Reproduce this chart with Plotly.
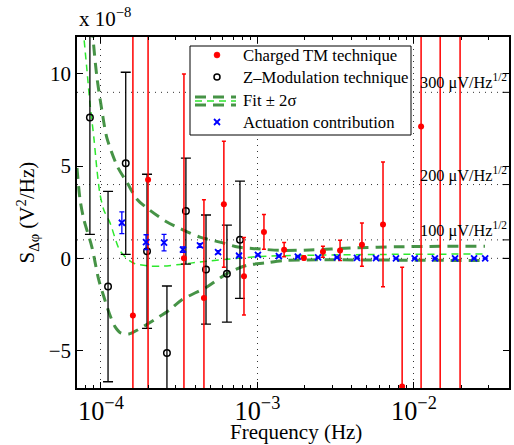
import plotly.graph_objects as go

# ---------------- data (PSD values in units of 1e-8 V^2/Hz) ----------------
# Charged TM technique
f_charged = [1.60e-4, 2.00e-4, 3.39e-4, 4.55e-4, 6.10e-4, 8.20e-4, 1.10e-3, 1.48e-3,
             1.98e-3, 2.62e-3, 3.37e-3, 4.65e-3, 6.34e-3, 8.40e-3, 1.11e-2, 1.47e-2, 1.97e-2]
S_charged = [-3.1, 4.26, 0.0, -2.15, 2.93, -0.97, 1.43, 0.47,
             0.02, 0.36, 0.43, 0.74, 1.84, -6.95, 7.15, 14.0, -10.0]
err_charged = [16.0, 12.0, 10.0, 5.33, 3.42, 2.1, 0.94, 0.39,
               0.10, 0.30, 0.55, 1.17, 3.38, 6.46, 16.0, 22.0, 25.0]

# Z-Modulation technique
f_zmod = [8.5e-5, 1.11e-4, 1.44e-4, 1.97e-4, 2.64e-4, 3.49e-4, 4.69e-4, 6.38e-4, 7.73e-4]
S_zmod = [7.64, -1.53, 5.15, 0.38, -5.13, 2.56, -0.61, -0.83, 1.01]
err_zmod = [6.34, 5.16, 4.94, 4.18, 3.63, 2.87, 2.96, 2.63, 3.18]

# Actuation contribution
f_act = [1.36e-4, 1.94e-4, 2.53e-4, 3.34e-4, 4.29e-4, 5.60e-4, 7.62e-4, 1.007e-3, 1.37e-3, 1.81e-3,
         2.44e-3, 3.22e-3, 4.32e-3, 5.72e-3, 7.67e-3, 1.01e-2, 1.36e-2, 1.83e-2, 2.42e-2, 2.85e-2]
S_act = [1.93, 0.88, 0.85, 0.47, 0.70, 0.34, 0.15, 0.19, 0.12, 0.09,
         0.05, 0.05, 0.02, 0.01, 0.0, 0.0, 0.0, 0.0, 0.0, 0.0]
err_act = [0.59, 0.40, 0.45, 0.15, 0.10, 0.08, 0.05, 0.05, 0.04, 0.03,
           0.02, 0.02, 0.02, 0.02, 0.01, 0.01, 0.01, 0.01, 0.01, 0.01]

# Fit
f_fit = [7.35e-5, 7.78e-5, 8.14e-5, 8.51e-5, 9.02e-5, 9.43e-5, 9.85e-5, 1.045e-4, 1.14e-4, 1.32e-4,
         1.51e-4, 1.65e-4, 2.06e-4, 2.53e-4, 3.20e-4, 4.29e-4, 6.38e-4, 1.04e-3, 1.87e-3, 8.12e-3, 2.84e-2]
S_fit = [14.4, 12.0, 10.2, 8.4, 6.5, 4.8, 3.5, 2.6, 1.95, 0.43,
         -0.1, -0.29, -0.42, -0.42, -0.33, -0.2, -0.05, 0.1, 0.16, 0.22, 0.23]

# Fit + 2 sigma
f_up = [8.51e-5, 8.89e-5, 9.43e-5, 1.015e-4, 1.09e-4, 1.27e-4, 1.47e-4, 1.70e-4, 2.06e-4, 2.64e-4,
        3.39e-4, 4.29e-4, 5.75e-4, 7.50e-4, 9.93e-4, 1.39e-3, 2.16e-3, 3.90e-3, 8.12e-3, 2.84e-2]
S_up = [14.5, 12.0, 9.8, 8.0, 6.55, 5.0, 4.1, 3.2, 2.6, 1.97,
        1.52, 1.15, 0.88, 0.61, 0.52, 0.43, 0.45, 0.56, 0.63, 0.66]

# Fit - 2 sigma
f_lo = [7.03e-5, 7.35e-5, 7.78e-5, 8.76e-5, 9.64e-5, 1.045e-4, 1.133e-4, 1.229e-4, 1.342e-4, 1.51e-4,
        1.70e-4, 2.18e-4, 2.74e-4, 3.29e-4, 4.75e-4, 6.38e-4, 8.57e-4, 1.12e-3, 1.46e-3, 2.51e-3,
        8.12e-3, 2.84e-2]
S_lo = [4.9, 3.2, 2.1, 0.6, -1.1, -2.1, -3.0, -3.7, -4.05, -4.1,
        -3.9, -3.35, -2.8, -2.25, -1.55, -0.83, -0.38, -0.25, -0.12, -0.08,
        -0.1, -0.12]

# Amplitude reference levels (uV/Hz^1/2)
uV_levels = [100, 200, 300]
UNIT = 1e-8  # y-axis multiplier

y_ticks = [-5, 0, 5, 10]
legend_labels = ["Charged TM technique", "Z–Modulation technique", "Fit ± 2σ", "Actuation contribution"]

FONT = "Liberation Serif"
DARK_GREEN = "rgba(50,135,50,0.9)"
LIME = "#2ee82e"

# plot-area geometry in pixels (for the hand-drawn legend)
W, H = 514, 445
ML, MR, MT, MB = 77, 5, 37, 57
PW, PH = W - ML - MR, H - MT - MB


def px(xp):
    return (xp - ML) / PW


def py(yp):
    return (H - MB - yp) / PH


fig = go.Figure()

# fits
fit_dash = "11px,7px"
fig.add_trace(go.Scatter(x=f_up, y=S_up, mode="lines", showlegend=False,
                         line=dict(color=DARK_GREEN, width=3, dash=fit_dash, shape="spline", smoothing=0.8)))
fig.add_trace(go.Scatter(x=f_lo, y=S_lo, mode="lines", showlegend=False,
                         line=dict(color=DARK_GREEN, width=3, dash=fit_dash, shape="spline", smoothing=0.8)))
fig.add_trace(go.Scatter(x=f_fit, y=S_fit, mode="lines", showlegend=False,
                         line=dict(color=LIME, width=1.5, dash="7px,5px", shape="spline", smoothing=0.8)))

# Z-modulation
fig.add_trace(go.Scatter(x=f_zmod, y=S_zmod, mode="markers", showlegend=False,
                         marker=dict(symbol="circle-open", size=6.5, color="black", line=dict(width=1.5)),
                         error_y=dict(type="data", array=err_zmod, color="black", thickness=1.3, width=5)))
# Charged TM
fig.add_trace(go.Scatter(x=f_charged, y=S_charged, mode="markers", showlegend=False,
                         marker=dict(symbol="circle", size=6, color="red"),
                         error_y=dict(type="data", array=err_charged, color="red", thickness=1.5, width=2)))
# Actuation
fig.add_trace(go.Scatter(x=f_act, y=S_act, mode="markers", showlegend=False,
                         marker=dict(symbol="x-thin", size=6, color="blue", line=dict(width=1.8, color="blue")),
                         error_y=dict(type="data", array=err_act, color="blue", thickness=1.3, width=2.5)))

# horizontal dotted guide lines (0 and amplitude levels)
levels = [0] + [(u * 1e-6) ** 2 / UNIT for u in uV_levels]
shapes = []
for lv in levels:
    shapes.append(dict(type="line", xref="paper", x0=0, x1=1, yref="y", y0=lv, y1=lv,
                       line=dict(color="#333", width=1, dash="1px,5px"), layer="below"))
    shapes.append(dict(type="line", xref="paper", x0=0.985, x1=1, yref="y", y0=lv, y1=lv,
                       line=dict(color="black", width=1)))

# ---- hand-drawn legend (box, symbols) ----
shapes.append(dict(type="rect", xref="paper", yref="paper", x0=px(190), x1=px(411), y0=py(135), y1=py(46),
                   fillcolor="white", line=dict(color="black", width=1), layer="above"))
row_y = [55, 77, 100, 122]
sym_x = 217
# red dot
shapes.append(dict(type="circle", xref="paper", yref="paper", xsizemode="pixel", ysizemode="pixel",
                   xanchor=px(sym_x), yanchor=py(row_y[0]), x0=-3, x1=3, y0=-3, y1=3,
                   fillcolor="red", line=dict(color="red", width=0.5), layer="above"))
# black open circle
shapes.append(dict(type="circle", xref="paper", yref="paper", xsizemode="pixel", ysizemode="pixel",
                   xanchor=px(sym_x), yanchor=py(row_y[1]), x0=-3, x1=3, y0=-3, y1=3,
                   fillcolor="white", line=dict(color="black", width=1.5), layer="above"))
# fit lines
for dy, col, wd, ds in [(-4, DARK_GREEN, 3, fit_dash), (4, DARK_GREEN, 3, fit_dash), (0, LIME, 1.5, "7px,5px")]:
    shapes.append(dict(type="line", xref="paper", yref="paper", x0=px(195), x1=px(236),
                       y0=py(row_y[2] + 1 + dy), y1=py(row_y[2] + 1 + dy),
                       line=dict(color=col, width=wd, dash=ds), layer="above"))
# blue x
for s in (1, -1):
    shapes.append(dict(type="line", xref="paper", yref="paper", xsizemode="pixel", ysizemode="pixel",
                       xanchor=px(sym_x), yanchor=py(row_y[3]), x0=-3, x1=3, y0=-3 * s, y1=3 * s,
                       line=dict(color="blue", width=1.8), layer="above"))

annotations = []
for lab, ry in zip(legend_labels, row_y):
    annotations.append(dict(xref="paper", x=px(241), yref="paper", y=py(ry), xanchor="left", yanchor="middle",
                            text=lab, showarrow=False, font=dict(family=FONT, size=16.7, color="black")))

for u, lv in zip(uV_levels, levels[1:]):
    annotations.append(dict(xref="paper", x=px(418), yref="y", y=lv, xanchor="left", yanchor="bottom",
                            text=f"{u} μV/Hz<sup>1/2</sup>", showarrow=False,
                            font=dict(family=FONT, size=16.3, color="black"), yshift=-2))
annotations.append(dict(xref="paper", x=0.0, yref="paper", y=1.011, xanchor="left", yanchor="bottom",
                        text="x 10<sup>−8</sup>", showarrow=False, font=dict(family=FONT, size=21, color="black")))
annotations.append(dict(xref="paper", x=px(27), yref="paper", y=0.5, xanchor="center", yanchor="middle",
                        text="S<sub>Δφ</sub> (V<sup>2</sup>/Hz)", textangle=-90, showarrow=False,
                        font=dict(family=FONT, size=21, color="black")))
annotations.append(dict(xref="paper", x=px(296), yref="paper", y=py(432), xanchor="center", yanchor="middle",
                        text="Frequency (Hz)", showarrow=False, font=dict(family=FONT, size=21, color="black")))

fig.update_layout(
    width=W, height=H,
    margin=dict(l=ML, r=MR, t=MT, b=MB),
    paper_bgcolor="white", plot_bgcolor="white",
    font=dict(family=FONT, color="black"),
    shapes=shapes, annotations=annotations,
    showlegend=False,
    xaxis=dict(type="log", range=[-4.153, -1.393], dtick=1, exponentformat="power", automargin=False,
               showline=True, linecolor="black", linewidth=1.5, mirror="ticks",
               ticks="inside", ticklen=6, tickcolor="black", tickwidth=1,
               tickfont=dict(family=FONT, size=21),
               showgrid=True, gridcolor="#333", gridwidth=1, griddash="1px,5px",
               minor=dict(ticks="inside", ticklen=3, tickcolor="black", dtick="D1", showgrid=False),
               zeroline=False),
    yaxis=dict(range=[-7.03, 12.0], tickmode="array", tickvals=y_ticks, automargin=False,
               showline=True, linecolor="black", linewidth=1.5, mirror="ticks",
               ticks="inside", ticklen=6, tickcolor="black", tickwidth=1,
               tickfont=dict(family=FONT, size=21), showgrid=False, zeroline=False),
)

fig.write_html("out.html", config={"displayModeBar": False},
               post_script="document.body.style.margin='0';document.body.style.overflow='hidden';")
